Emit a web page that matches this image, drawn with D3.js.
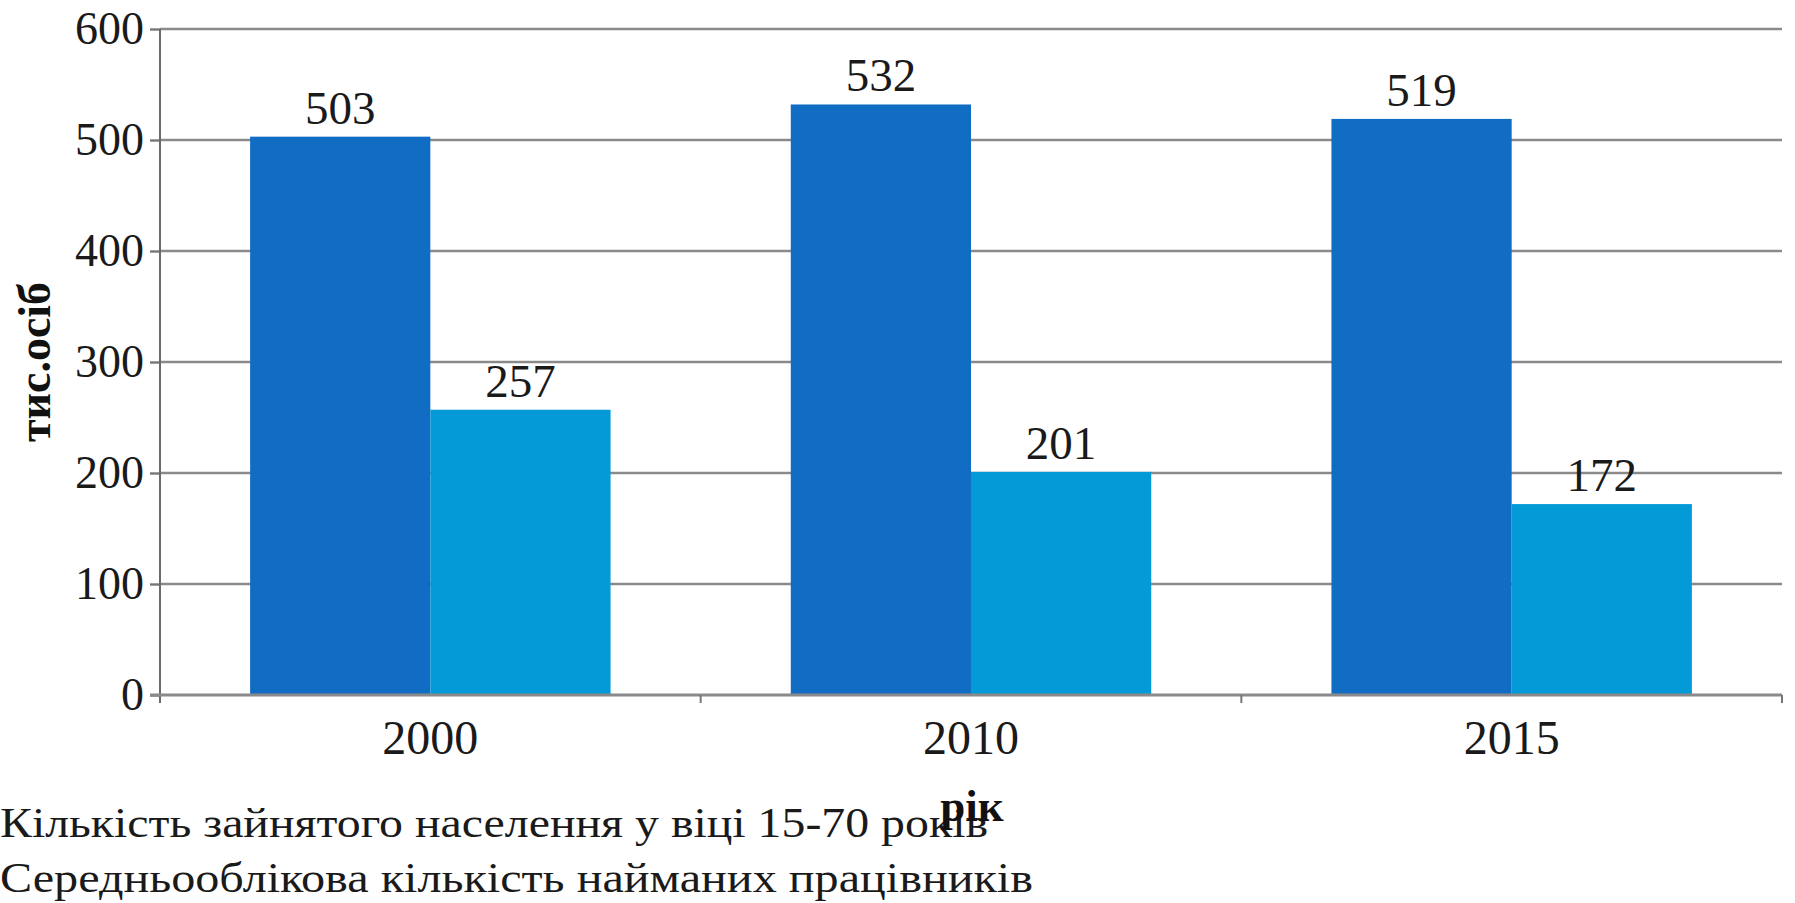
<!DOCTYPE html>
<html>
<head>
<meta charset="utf-8">
<script src="https://cdn.jsdelivr.net/npm/d3@7"></script>
<style>
  html, body { margin: 0; padding: 0; background: #ffffff; }
  svg { display: block; }
  text { font-family: "Liberation Serif", "Times New Roman", serif; }
</style>
</head>
<body>
<svg id="chart" width="1795" height="903"></svg>
<script>
const categories = ["2000", "2010", "2015"];
const seriesNames = [
  "Кількість зайнятого населення у віці 15-70 років",
  "Середньооблікова кількість найманих працівників"
];
const employed = [503, 532, 519];
const hired = [257, 201, 172];
const yTicks = [0, 100, 200, 300, 400, 500, 600];
const yTitle = "тис.осіб";
const xTitle = "рік";
const colors = ["#116CC4", "#039AD7"];

const FONT = "'Liberation Serif', 'Times New Roman', serif";
const svg = d3.select("#chart");
const pLeft = 160, pRight = 1782, pTop = 29, pBottom = 695;

const x = d3.scaleBand().domain(categories).range([pLeft, pRight]).paddingInner(0).paddingOuter(0);
const inner = d3.scaleBand().domain([0, 1]).range([0, x.bandwidth()]).paddingInner(0).paddingOuter(0.5);
const y = d3.scaleLinear().domain([0, 600]).range([pBottom, pTop]);

// gridlines
svg.append("g")
  .selectAll("line")
  .data(yTicks.filter(d => d > 0))
  .join("line")
  .attr("x1", pLeft).attr("x2", pRight)
  .attr("y1", d => y(d)).attr("y2", d => y(d))
  .attr("stroke", "#8a8a8a").attr("stroke-width", 2.6);

// bars
const rows = categories.map((c, i) => ({ c, vals: [employed[i], hired[i]] }));
const groups = svg.append("g").selectAll("g").data(rows).join("g")
  .attr("transform", d => `translate(${x(d.c)},0)`);
groups.selectAll("rect")
  .data(d => d.vals.map((v, k) => ({ v, k })))
  .join("rect")
  .attr("x", d => inner(d.k))
  .attr("width", inner.bandwidth())
  .attr("y", d => y(d.v))
  .attr("height", d => y(0) - y(d.v))
  .attr("fill", d => colors[d.k]);
groups.selectAll("text")
  .data(d => d.vals.map((v, k) => ({ v, k })))
  .join("text")
  .attr("x", d => inner(d.k) + inner.bandwidth() / 2)
  .attr("y", d => y(d.v) - 13)
  .attr("text-anchor", "middle")
  .attr("font-family", FONT)
  .attr("font-size", 47)
  .attr("fill", "#1a1a1a")
  .text(d => d.v);

// y axis
const yAxis = svg.append("g")
  .attr("transform", `translate(${pLeft},0)`)
  .call(d3.axisLeft(y).tickValues(yTicks).tickSize(10).tickPadding(6));
yAxis.attr("font-family", FONT);
yAxis.select(".domain").remove();
yAxis.selectAll(".tick line").attr("stroke", "#777").attr("stroke-width", 2.4);
yAxis.selectAll(".tick text").attr("font-size", 46).attr("fill", "#1a1a1a")
  .attr("font-family", FONT).attr("dy", "0.32em");
svg.append("line")
  .attr("x1", pLeft).attr("x2", pLeft)
  .attr("y1", pTop).attr("y2", pBottom + 8)
  .attr("stroke", "#6a6a6a").attr("stroke-width", 2);

// x axis
svg.append("line")
  .attr("x1", pLeft - 10).attr("x2", pRight)
  .attr("y1", pBottom).attr("y2", pBottom)
  .attr("stroke", "#8a8a8a").attr("stroke-width", 3);
const bounds = categories.map(c => x(c)).concat([pRight]);
svg.append("g").selectAll("line").data(bounds.slice(1)).join("line")
  .attr("x1", d => d).attr("x2", d => d)
  .attr("y1", pBottom).attr("y2", pBottom + 8)
  .attr("stroke", "#777").attr("stroke-width", 2);
svg.append("g").selectAll("text").data(categories).join("text")
  .attr("x", d => x(d) + x.bandwidth() / 2)
  .attr("y", 754)
  .attr("text-anchor", "middle")
  .attr("font-family", FONT)
  .attr("font-size", 48)
  .attr("fill", "#1a1a1a")
  .text(d => d);

// axis titles
svg.append("text")
  .attr("transform", "translate(50,362) rotate(-90)")
  .attr("text-anchor", "middle")
  .attr("font-family", FONT)
  .attr("font-size", 46)
  .attr("font-weight", "bold")
  .attr("fill", "#111")
  .text(yTitle);

// legend text
const legendEnds = [988, 1033];
svg.append("g").selectAll("text").data(seriesNames).join("text")
  .attr("x", 0)
  .attr("y", (d, i) => 837 + i * 55)
  .attr("font-family", FONT)
  .attr("font-size", 43)
  .attr("textLength", (d, i) => legendEnds[i])
  .attr("lengthAdjust", "spacingAndGlyphs")
  .attr("fill", "#1a1a1a")
  .text(d => d);

svg.append("text")
  .attr("x", 972).attr("y", 821)
  .attr("text-anchor", "middle")
  .attr("font-family", FONT)
  .attr("font-size", 45)
  .attr("font-weight", "bold")
  .attr("fill", "#111")
  .text(xTitle);
</script>
</body>
</html>
